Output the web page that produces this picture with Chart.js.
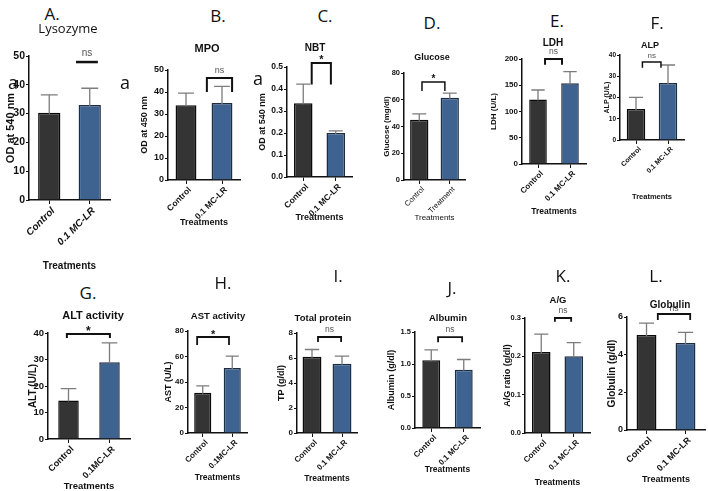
<!DOCTYPE html>
<html>
<head>
<meta charset="utf-8">
<script src="https://cdn.jsdelivr.net/npm/chart.js@4.4.1/dist/chart.umd.min.js"></script>
<style>
  body { margin:0; background:#fff; width:708px; height:491px; position:relative; overflow:hidden; font-family:'Liberation Sans', Arial, sans-serif; }
  canvas { position:absolute; }
  .lbl { position:absolute; transform:translate(-50%,-50%); white-space:nowrap; color:#111; z-index:2; }
</style>
</head>
<body>
<script>
// groups (x categories)
const groups = ['Control', '0.1 MC-LR'];
const groupsGlucose = ['Control', 'Treatment'];
const groupsLiver = ['Control', '0.1MC-LR'];

// means and SD
const lysozymeMean = [30.3, 33.0];   const lysozymeSD = [6.2, 5.8];
const mpoMean = [34.0, 35.0];        const mpoSD = [5.5, 7.6];
const nbtMean = [0.335, 0.2];        const nbtSD = [0.087, 0.01];
const glucoseMean = [45, 61.5];      const glucoseSD = [4.5, 3.5];
const ldhMean = [123, 154];          const ldhSD = [18, 22];
const alpMean = [14.6, 26.8];        const alpSD = [5.5, 8.5];
const altMean = [14.5, 29];          const altSD = [4.5, 7.3];
const astMean = [31.5, 51];          const astSD = [5.5, 9.3];
const tpMean = [6.1, 5.55];          const tpSD = [0.58, 0.6];
const albuminMean = [1.06, 0.91];    const albuminSD = [0.16, 0.16];
const agMean = [0.211, 0.2];         const agSD = [0.047, 0.036];
const globulinMean = [5.05, 4.62];   const globulinSD = [0.63, 0.56];

const barColors = ['#343434', '#3e6390'];
const barBorders = ['#0b0b0b', '#1d2d42'];

const sans = "'Liberation Sans', Arial, sans-serif";

// panel layout: plot = [axisLeft, topTick, axisRight, zeroLine]
const panels = [
  { mean: lysozymeMean, sd: lysozymeSD, labels: groups, plot:[29,56,110,200], max:50, step:10, dec:0,
    yTitle:'OD at 540 nm', yTitleX:11, yTitleSize:11, tickSize:10.5, xSize:10, xStyle:'italic', xWeight:'bold',
    treatY:266, treatSize:10, treatWeight:'bold', barPct:0.55,
    sig:{u1:0.66, u2:1.2, top:47.9, leg:null, text:'ns', lw:2.5, size:10, dy:-9},
    letter:['A.',52,13,17], title:['Lysozyme',68,28,13,'normal','Open Sans'], mark:[13,82] },
  { mean: mpoMean, sd: mpoSD, labels: groups, plot:[168,70,240,180], max:50, step:10, dec:0,
    yTitle:'OD at 450 nm', yTitleX:145, yTitleSize:9, tickSize:9, xSize:8.5, xWeight:'bold',
    treatY:223, treatSize:9, treatWeight:'bold', barPct:0.58,
    sig:{u1:0.58, u2:1.28, top:46.4, leg:40, text:'ns', lw:2, size:9, dy:-7},
    letter:['B.',218,15,17], title:['MPO',207,48,11,'bold'], mark:[125,82] },
  { mean: nbtMean, sd: nbtSD, labels: groups, plot:[287,67,352,177], max:0.5, step:0.1, dec:1,
    yTitle:'OD at 540 nm', yTitleX:263, yTitleSize:9, tickSize:8.5, xSize:8.5, xWeight:'bold',
    treatY:218, treatSize:9, treatWeight:'bold', barPct:0.57,
    sig:{u1:0.26, u2:0.85, top:0.518, leg:0.42, text:'*', lw:2, size:11, dy:-6},
    letter:['C.',325,15,17], title:['NBT',315,47,10,'bold'], mark:[258,78] },
  { mean: glucoseMean, sd: glucoseSD, labels: groupsGlucose, plot:[404,73,465,180], max:80, step:20, dec:0,
    yTitle:'Glucose (mg/dl)', yTitleX:387, yTitleSize:8, tickSize:7.5, xSize:7.5, xWeight:'normal',
    treatY:218, treatSize:8, treatWeight:'normal', barPct:0.6,
    sig:{u1:0.09, u2:0.84, top:73.3, leg:66.5, text:'*', lw:1.5, size:10, dy:-6},
    letter:['D.',432,22,17], title:['Glucose',432,57,9,'bold'] },
  { mean: ldhMean, sd: ldhSD, labels: groups, plot:[522,59,586,164], max:200, step:50, dec:0,
    yTitle:'LDH (U/L)', yTitleX:494, yTitleSize:8, tickSize:8, xSize:8, xWeight:'bold',
    treatY:212, treatSize:8.5, treatWeight:'bold', barPct:0.55,
    sig:{u1:0.22, u2:0.75, top:200, leg:189, text:'ns', lw:2, size:8.5, dy:-7},
    letter:['E.',557,20,17], title:['LDH',553,42,10,'bold'] },
  { mean: alpMean, sd: alpSD, labels: groups, plot:[620,55,684,140], max:40, step:10, dec:0,
    yTitle:'ALP (U/L)', yTitleX:607, yTitleSize:7, tickSize:6.5, xSize:7, xWeight:'bold',
    treatY:197, treatSize:7.5, treatWeight:'bold', barPct:0.58,
    sig:{u1:0.2, u2:0.78, top:36.7, leg:34, text:'ns', lw:1.5, size:8, dy:-6},
    letter:['F.',657,22,17], title:['ALP',650,45,9,'bold'] },
  { mean: altMean, sd: altSD, labels: groupsLiver, plot:[48,333,130,439], max:40, step:10, dec:0,
    yTitle:'ALT (U/L)', yTitleX:33, yTitleSize:10, tickSize:9.5, xSize:9, xWeight:'bold',
    treatY:486, treatSize:9.5, treatWeight:'bold', barPct:0.5,
    sig:{u1:-0.04, u2:1.01, top:39.6, leg:38.1, text:'*', lw:2, size:12, dy:-5},
    letter:['G.',88,292,17], title:['ALT activity',93,315,11,'bold'] },
  { mean: astMean, sd: astSD, labels: groupsLiver, plot:[188,331,247,433], max:80, step:20, dec:0,
    yTitle:'AST (U/L)', yTitleX:169, yTitleSize:9, tickSize:8, xSize:8, xWeight:'bold',
    treatY:478, treatSize:8.5, treatWeight:'bold', barPct:0.58,
    sig:{u1:-0.19, u2:0.89, top:75.3, leg:69, text:'*', lw:1.8, size:11, dy:-5},
    letter:['H.',223,282,17], title:['AST activity',218,315,9.5,'bold'] },
  { mean: tpMean, sd: tpSD, labels: groups, plot:[297,333,357,433], max:8, step:2, dec:0,
    yTitle:'TP (g/dl)', yTitleX:282, yTitleSize:9, tickSize:8, xSize:8, xWeight:'bold',
    treatY:479, treatSize:8.5, treatWeight:'bold', barPct:0.63,
    sig:{u1:0.2, u2:0.97, top:7.68, leg:7.28, text:'ns', lw:1.8, size:8.5, dy:-7},
    letter:['I.',338,275,17], title:['Total protein',323,317,9.5,'bold'] },
  { mean: albuminMean, sd: albuminSD, labels: groups, plot:[415,332,480,428], max:1.5, step:0.5, dec:1,
    yTitle:'Albumin (g/dl)', yTitleX:392, yTitleSize:9, tickSize:7.5, xSize:8, xWeight:'bold',
    treatY:470, treatSize:8.5, treatWeight:'bold', barPct:0.55,
    sig:{u1:0.21, u2:0.95, top:1.42, leg:1.34, text:'ns', lw:1.8, size:8.5, dy:-7},
    letter:['J.',452,287,17], title:['Albumin',448,317,9.5,'bold'] },
  { mean: agMean, sd: agSD, labels: groups, plot:[525,318,590,433], max:0.3, step:0.1, dec:1,
    yTitle:'A/G ratio (g/dl)', yTitleX:508, yTitleSize:9, tickSize:7.5, xSize:8, xWeight:'bold',
    treatY:483, treatSize:8.5, treatWeight:'bold', barPct:0.57,
    sig:{u1:0.42, u2:0.92, top:0.3, leg:0.29, text:'ns', lw:1.8, size:8.5, dy:-7},
    letter:['K.',563,275,17], title:['A/G',558,299,9.5,'bold'] },
  { mean: globulinMean, sd: globulinSD, labels: groups, plot:[627,317,705,430], max:6, step:2, dec:0,
    yTitle:'Globulin (g/dl)', yTitleX:612, yTitleSize:10, tickSize:9, xSize:9, xWeight:'bold',
    treatY:480, treatSize:9, treatWeight:'bold', barPct:0.51,
    sig:{u1:0.29, u2:1.12, top:6.16, leg:5.84, text:'ns', lw:1.8, size:8.5, dy:-5},
    letter:['L.',656,275,17], title:['Globulin',670,304,10,'bold'] }
];

// error bars + significance brackets, placed through the chart scales
const marksPlugin = {
  id: 'marks',
  afterDatasetsDraw(chart, args, opts) {
    const { ctx, scales: { x, y } } = chart;
    const meta = chart.getDatasetMeta(0);
    ctx.save();
    ctx.strokeStyle = '#7c7c7c';
    ctx.lineWidth = 1.3;
    meta.data.forEach((bar, i) => {
      const top = y.getPixelForValue(opts.mean[i] + opts.sd[i]);
      const cap = bar.width * 0.38;
      ctx.beginPath();
      ctx.moveTo(bar.x, bar.y + 1);
      ctx.lineTo(bar.x, top);
      ctx.moveTo(bar.x - cap, top);
      ctx.lineTo(bar.x + cap, top);
      ctx.stroke();
    });
    const s = opts.sig;
    const x0 = x.getPixelForValue(0), d = x.getPixelForValue(1) - x0;
    const px1 = x0 + s.u1 * d, px2 = x0 + s.u2 * d;
    const py = y.getPixelForValue(s.top);
    ctx.strokeStyle = '#111';
    ctx.lineWidth = s.lw;
    ctx.beginPath();
    if (s.leg !== null) {
      const pl = y.getPixelForValue(s.leg);
      ctx.moveTo(px1, pl); ctx.lineTo(px1, py); ctx.lineTo(px2, py); ctx.lineTo(px2, pl);
    } else {
      ctx.moveTo(px1, py); ctx.lineTo(px2, py);
    }
    ctx.stroke();
    ctx.fillStyle = s.text === '*' ? '#111' : '#555';
    ctx.font = (s.text === '*' ? 'bold ' : '') + s.size + "px 'Liberation Sans', Arial";
    ctx.textAlign = 'center';
    ctx.textBaseline = 'middle';
    ctx.fillText(s.text, (px1 + px2) / 2, py + s.dy + (s.text === '*' ? 3 : 0));
    ctx.restore();
  }
};

function addLabel(text, x, y, size, weight, family) {
  const el = document.createElement('div');
  el.className = 'lbl';
  el.textContent = text;
  el.style.left = x + 'px';
  el.style.top = y + 'px';
  el.style.fontSize = size + 'px';
  el.style.fontWeight = weight || 'normal';
  el.style.fontFamily = family || sans;
  document.body.appendChild(el);
}

panels.forEach(p => {
  const [l, t, r, b] = p.plot;
  const cl = p.yTitleX - 10, ct = t - 25, cr = r + 4, cb = p.treatY + 10;
  const cv = document.createElement('canvas');
  cv.width = cr - cl; cv.height = cb - ct;
  cv.style.left = cl + 'px'; cv.style.top = ct + 'px';
  document.body.appendChild(cv);

  const yLh = p.yTitleSize * 1.2, tLh = p.treatSize * 1.2;

  new Chart(cv, {
    type: 'bar',
    data: {
      labels: p.labels,
      datasets: [{
        data: p.mean,
        backgroundColor: barColors,
        borderColor: barBorders,
        borderWidth: 1.5,
        barPercentage: p.barPct,
        categoryPercentage: 1
      }]
    },
    options: {
      responsive: false,
      animation: false,
      layout: { padding: { left: 0, top: t - ct, right: cr - r, bottom: 0 } },
      plugins: { legend: { display: false }, tooltip: { enabled: false }, marks: { mean: p.mean, sd: p.sd, sig: p.sig } },
      scales: {
        x: {
          afterFit: sc => { sc.height = cb - b; },
          grid: { display: true, offset: false, drawOnChartArea: false, drawTicks: true, tickLength: 4, color: '#111' },
          border: { display: true, color: '#111', width: 1.5 },
          ticks: { minRotation: 45, maxRotation: 45, autoSkip: false, padding: 1, labelOffset: 4, color: '#111',
                   font: { family: sans, size: p.xSize, weight: p.xWeight, style: p.xStyle || 'normal' } },
          title: { display: true, text: 'Treatments', color: '#111',
                   font: { family: sans, size: p.treatSize, weight: p.treatWeight },
                   padding: { top: 0, bottom: cb - p.treatY - tLh / 2 } }
        },
        y: {
          min: 0, max: p.max,
          afterFit: sc => { sc.width = l - cl; },
          grid: { display: true, drawOnChartArea: false, drawTicks: true, tickLength: 3, color: '#111' },
          border: { display: true, color: '#111', width: 1.5 },
          ticks: { stepSize: p.step, padding: 1, color: '#111',
                   font: { family: sans, size: p.tickSize, weight: 'bold' },
                   callback: v => Number(v).toFixed(p.dec) },
          title: { display: true, text: p.yTitle, color: '#111',
                   font: { family: sans, size: p.yTitleSize, weight: 'bold' },
                   padding: { top: p.yTitleX - cl - yLh / 2, bottom: 0 } }
        }
      }
    },
    plugins: [marksPlugin]
  });

  addLabel(p.letter[0], p.letter[1], p.letter[2], p.letter[3], 'normal', "'Open Sans', sans-serif");
  addLabel(p.title[0], p.title[1], p.title[2], p.title[3], p.title[4], p.title[5] ? "'" + p.title[5] + "', sans-serif" : null);
  if (p.mark) addLabel('a', p.mark[0], p.mark[1], 18, 'normal', "'Open Sans', sans-serif");
});
</script>
</body>
</html>
